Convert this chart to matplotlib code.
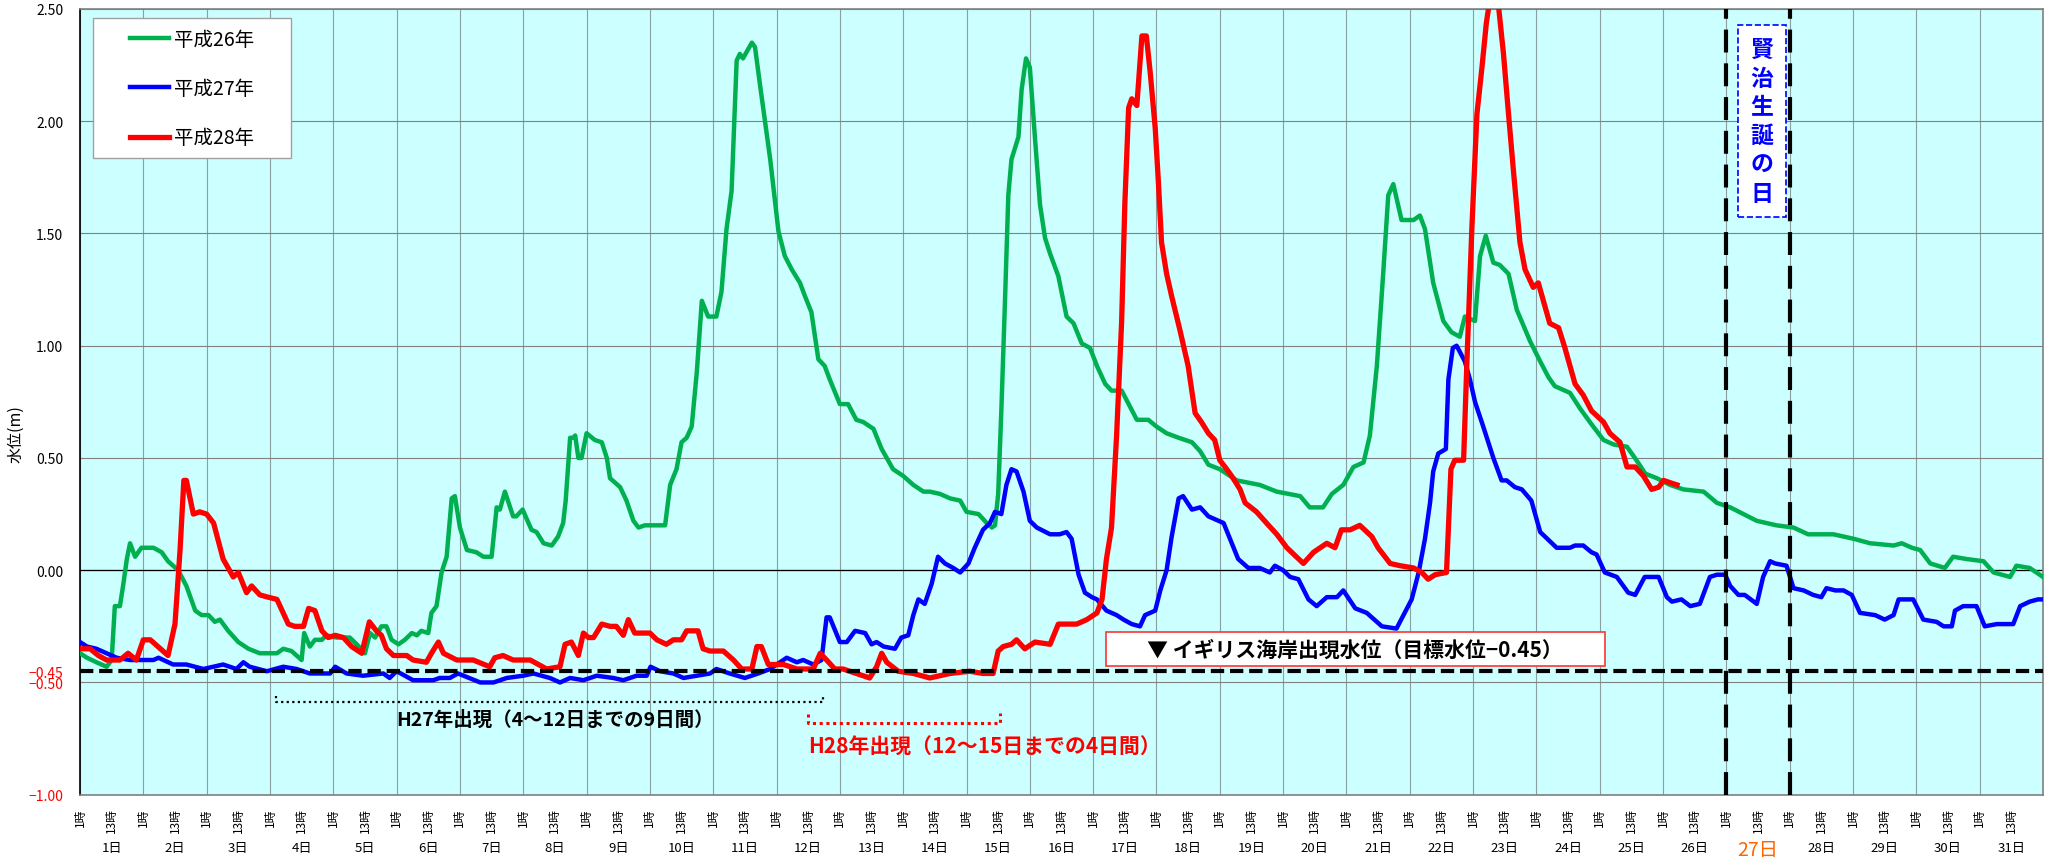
import matplotlib
matplotlib.use("Agg")
import matplotlib.pyplot as plt
from matplotlib.patches import Rectangle
from matplotlib.ticker import FixedLocator, FixedFormatter

plt.rcParams['font.family'] = ['Noto Sans CJK JP', 'DejaVu Sans']

# 横軸: 1日1時からの経過日数
h26_t = [0.00, 0.11, 0.26, 0.42, 0.50, 0.55, 0.63, 0.68, 0.74, 0.79,
         0.87, 0.97, 1.16, 1.29, 1.39, 1.55, 1.68, 1.82, 1.92, 2.03,
         2.13, 2.21, 2.34, 2.50, 2.66, 2.84, 3.11, 3.21, 3.34, 3.50,
         3.54, 3.63, 3.71, 3.82, 3.89, 4.05, 4.26, 4.37, 4.50, 4.58,
         4.66, 4.76, 4.84, 4.92, 5.03, 5.13, 5.24, 5.32, 5.39, 5.50,
         5.55, 5.63, 5.71, 5.79, 5.87, 5.92, 6.00, 6.11, 6.26, 6.37,
         6.50, 6.58, 6.63, 6.71, 6.84, 6.89, 6.99, 7.13, 7.21, 7.32,
         7.45, 7.55, 7.63, 7.67, 7.74, 7.79,
         7.82, 7.87, 7.92, 8.00, 8.13, 8.24, 8.32, 8.37, 8.53, 8.63,
         8.74, 8.82, 8.92, 9.24, 9.32, 9.42, 9.50, 9.58, 9.66, 9.74,
         9.82, 9.92, 10.05, 10.13, 10.21, 10.29, 10.37, 10.42, 10.47, 10.61,
         10.66, 10.74, 10.90, 11.03, 11.13, 11.24, 11.37, 11.45, 11.55, 11.66,
         11.76, 11.84, 12.00, 12.13, 12.26, 12.37, 12.53, 12.66, 12.84, 13.00,
         13.16, 13.32, 13.42, 13.58, 13.74, 13.90, 14.00, 14.19, 14.32, 14.40,
         14.45, 14.50, 14.55, 14.61, 14.66, 14.71, 14.82, 14.87, 14.94, 15.00,
         15.08, 15.16, 15.24, 15.32, 15.45,
         15.58, 15.69, 15.82, 15.95, 16.06, 16.19, 16.29, 16.45, 16.58, 16.69,
         16.87, 17.00, 17.16, 17.35, 17.56, 17.69, 17.82, 18.00, 18.27, 18.63,
         18.90, 19.27, 19.42, 19.63, 19.77, 19.95, 20.11, 20.27, 20.37, 20.48,
         20.58, 20.66, 20.74, 20.87, 21.06, 21.16, 21.24, 21.37, 21.53, 21.66,
         21.79, 21.87, 22.03, 22.11, 22.20, 22.32, 22.42, 22.56, 22.69, 22.90,
         23.06, 23.19, 23.29,
         23.53, 23.69, 23.87, 24.06, 24.22, 24.43, 24.58, 24.72, 24.90, 25.11,
         25.32, 25.64, 25.85, 26.06, 26.27, 26.48, 26.79, 27.06, 27.29, 27.53,
         27.69, 28.01, 28.27, 28.64, 28.77, 28.93, 29.06, 29.22, 29.45, 29.58,
         29.79, 30.06, 30.22, 30.48, 30.58, 30.79, 31.00]
h26_level = [-0.37, -0.39, -0.41, -0.43, -0.40, -0.16, -0.16, -0.07, 0.05, 0.12,
             0.06, 0.10, 0.10, 0.08, 0.04, 0.00, -0.07, -0.18, -0.20, -0.20,
             -0.23, -0.22, -0.27, -0.32, -0.35, -0.37, -0.37, -0.35, -0.36, -0.40,
             -0.28, -0.34, -0.31, -0.31, -0.29, -0.30, -0.30, -0.33, -0.37, -0.28,
             -0.30, -0.25, -0.25, -0.31, -0.33, -0.31, -0.28, -0.29, -0.27, -0.28,
             -0.19, -0.16, -0.01, 0.06, 0.32, 0.33, 0.19, 0.09, 0.08, 0.06,
             0.06, 0.28, 0.27, 0.35, 0.24, 0.24, 0.27, 0.18, 0.17, 0.12,
             0.11, 0.15, 0.21, 0.31, 0.59, 0.59,
             0.60, 0.50, 0.50, 0.61, 0.58, 0.57, 0.50, 0.41, 0.37, 0.31,
             0.22, 0.19, 0.20, 0.20, 0.38, 0.45, 0.57, 0.59, 0.64, 0.88,
             1.20, 1.13, 1.13, 1.24, 1.52, 1.69, 2.27, 2.30, 2.28, 2.35,
             2.33, 2.16, 1.83, 1.51, 1.40, 1.34, 1.28, 1.22, 1.15, 0.94,
             0.91, 0.85, 0.74, 0.74, 0.67, 0.66, 0.63, 0.54, 0.45, 0.42,
             0.38, 0.35, 0.35, 0.34, 0.32, 0.31, 0.26, 0.25, 0.21, 0.19,
             0.20, 0.34, 0.71, 1.22, 1.67, 1.83, 1.93, 2.14, 2.28, 2.24,
             1.93, 1.63, 1.48, 1.41, 1.31,
             1.13, 1.10, 1.01, 0.99, 0.91, 0.83, 0.80, 0.80, 0.73, 0.67,
             0.67, 0.64, 0.61, 0.59, 0.57, 0.53, 0.47, 0.45, 0.40, 0.38,
             0.35, 0.33, 0.28, 0.28, 0.34, 0.38, 0.46, 0.48, 0.60, 0.91,
             1.32, 1.67, 1.72, 1.56, 1.56, 1.58, 1.52, 1.28, 1.11, 1.06,
             1.04, 1.13, 1.11, 1.40, 1.49, 1.37, 1.36, 1.32, 1.16, 1.02,
             0.93, 0.86, 0.82,
             0.79, 0.72, 0.65, 0.58, 0.56, 0.55, 0.49, 0.43, 0.41, 0.38,
             0.36, 0.35, 0.30, 0.28, 0.25, 0.22, 0.20, 0.19, 0.16, 0.16,
             0.16, 0.14, 0.12, 0.11, 0.12, 0.10, 0.09, 0.03, 0.01, 0.06,
             0.05, 0.04, -0.01, -0.03, 0.02, 0.01, -0.03]

h27_t = [0.00, 0.11, 0.26, 0.42, 0.58, 0.79, 1.16, 1.24, 1.47, 1.68,
         1.95, 2.26, 2.47, 2.58, 2.68, 2.95, 3.21, 3.42, 3.63, 3.95,
         4.03, 4.21, 4.47, 4.79, 4.89, 5.00, 5.26, 5.58, 5.68, 5.84,
         5.97, 6.32, 6.53, 6.74, 7.00, 7.16, 7.42, 7.58, 7.74,
         7.95, 8.16, 8.42, 8.58, 8.79, 8.95, 9.01, 9.16, 9.37, 9.53,
         9.74, 9.95, 10.05, 10.26, 10.50, 10.71, 10.90, 11.16, 11.32, 11.42,
         11.58, 11.71, 11.79, 11.84, 12.00, 12.11, 12.24, 12.40, 12.50, 12.58,
         12.69, 12.87, 12.97, 13.08, 13.16, 13.24, 13.34, 13.45, 13.55, 13.66,
         13.79, 13.90, 14.03, 14.13, 14.26, 14.37, 14.45, 14.55, 14.63, 14.71,
         14.79, 14.90, 15.00, 15.11, 15.32, 15.47,
         15.58, 15.66, 15.77, 15.87, 15.98, 16.06, 16.21, 16.37, 16.48, 16.61,
         16.74, 16.82, 16.98, 17.06, 17.16, 17.24, 17.35, 17.42, 17.56, 17.69,
         17.82, 18.06, 18.16, 18.29, 18.45, 18.63, 18.79, 18.87, 19.00, 19.11,
         19.24, 19.40, 19.53, 19.69, 19.85, 19.95, 20.14, 20.32, 20.56, 20.79,
         20.90, 21.03, 21.14, 21.24, 21.32, 21.37, 21.45, 21.57, 21.61, 21.68,
         21.74, 21.87, 21.95, 22.03, 22.16, 22.32, 22.45, 22.53, 22.66, 22.77,
         22.92, 23.06, 23.21,
         23.32, 23.53, 23.61, 23.74, 23.87, 23.95, 24.08, 24.27, 24.45, 24.56,
         24.71, 24.93, 25.06, 25.14, 25.29, 25.43, 25.58, 25.74, 25.85, 25.98,
         26.06, 26.19, 26.29, 26.48, 26.58, 26.69, 26.77, 26.95, 27.06, 27.22,
         27.37, 27.50, 27.58, 27.72, 27.85, 27.98, 28.11, 28.35, 28.50, 28.64,
         28.72, 28.95, 29.11, 29.32, 29.43, 29.56, 29.61, 29.74, 29.95, 30.08,
         30.27, 30.53, 30.64, 30.79, 30.92, 31.00]
h27_level = [-0.32, -0.34, -0.35, -0.37, -0.39, -0.40, -0.40, -0.39, -0.42, -0.42,
             -0.44, -0.42, -0.44, -0.41, -0.43, -0.45, -0.43, -0.44, -0.46, -0.46,
             -0.43, -0.46, -0.47, -0.46, -0.48, -0.45, -0.49, -0.49, -0.48, -0.48,
             -0.46, -0.50, -0.50, -0.48, -0.47, -0.46, -0.48, -0.50, -0.48,
             -0.49, -0.47, -0.48, -0.49, -0.47, -0.47, -0.43, -0.45, -0.46, -0.48,
             -0.47, -0.46, -0.44, -0.46, -0.48, -0.46, -0.44, -0.39, -0.41, -0.40,
             -0.42, -0.40, -0.21, -0.21, -0.32, -0.32, -0.27, -0.28, -0.33, -0.32,
             -0.34, -0.35, -0.30, -0.29, -0.20, -0.13, -0.15, -0.06, 0.06, 0.03,
             0.01, -0.01, 0.03, 0.10, 0.18, 0.21, 0.26, 0.25, 0.38, 0.45,
             0.44, 0.35, 0.22, 0.19, 0.16, 0.16,
             0.17, 0.14, -0.02, -0.10, -0.12, -0.13, -0.18, -0.20, -0.22, -0.24,
             -0.25, -0.20, -0.18, -0.09, 0.00, 0.15, 0.32, 0.33, 0.27, 0.28,
             0.24, 0.21, 0.14, 0.05, 0.01, 0.01, -0.01, 0.02, 0.00, -0.03,
             -0.04, -0.13, -0.16, -0.12, -0.12, -0.09, -0.17, -0.19, -0.25, -0.26,
             -0.20, -0.13, -0.01, 0.14, 0.30, 0.44, 0.52, 0.54, 0.85, 0.99,
             1.00, 0.93, 0.85, 0.75, 0.64, 0.50, 0.40, 0.40, 0.37, 0.36,
             0.31, 0.17, 0.13,
             0.10, 0.10, 0.11, 0.11, 0.08, 0.07, -0.01, -0.03, -0.10, -0.11,
             -0.03, -0.03, -0.12, -0.14, -0.13, -0.16, -0.15, -0.03, -0.02, -0.02,
             -0.07, -0.11, -0.11, -0.15, -0.03, 0.04, 0.03, 0.02, -0.08, -0.09,
             -0.11, -0.12, -0.08, -0.09, -0.09, -0.11, -0.19, -0.20, -0.22, -0.20,
             -0.13, -0.13, -0.22, -0.23, -0.25, -0.25, -0.18, -0.16, -0.16, -0.25,
             -0.24, -0.24, -0.16, -0.14, -0.13, -0.13]

h28_t = [0.00, 0.16, 0.29, 0.42, 0.63, 0.76, 0.89, 1.00, 1.11, 1.39,
         1.50, 1.58, 1.64, 1.68, 1.79, 1.89, 2.00, 2.11, 2.26, 2.42,
         2.50, 2.63, 2.71, 2.84, 2.97, 3.11, 3.29, 3.39, 3.53, 3.61,
         3.71, 3.82, 3.92, 4.03, 4.16, 4.29, 4.45, 4.57, 4.68, 4.76,
         4.84, 4.95, 5.16, 5.26, 5.47, 5.55, 5.66, 5.74, 5.95, 6.21,
         6.47, 6.55, 6.68, 6.84, 7.11, 7.37, 7.58, 7.66, 7.76,
         7.87, 7.95, 8.03, 8.11, 8.24, 8.37, 8.47, 8.58, 8.66, 8.76,
         9.00, 9.11, 9.26, 9.37, 9.50, 9.58, 9.76, 9.84, 9.95, 10.16,
         10.32, 10.45, 10.61, 10.69, 10.76, 10.87, 11.11, 11.32, 11.58, 11.69,
         11.79, 11.92, 12.05, 12.26, 12.47, 12.58, 12.66, 12.74, 12.92, 13.16,
         13.42, 13.58, 13.74, 14.05, 14.26, 14.42, 14.50, 14.58, 14.71, 14.79,
         14.92, 15.08, 15.32, 15.45,
         15.74, 15.90, 16.06, 16.14, 16.21, 16.29, 16.37, 16.45, 16.50, 16.56,
         16.61, 16.69, 16.77, 16.84, 16.90, 16.98, 17.03, 17.08, 17.16, 17.24,
         17.37, 17.50, 17.61, 17.71, 17.82, 17.92, 18.00, 18.11, 18.21, 18.32,
         18.40, 18.58, 18.77, 18.90, 19.06, 19.21, 19.32, 19.48, 19.69, 19.82,
         19.92, 20.06, 20.21, 20.40, 20.50, 20.69, 20.85, 21.06, 21.19, 21.29,
         21.40, 21.58, 21.65, 21.71, 21.85, 21.90, 21.98, 22.06, 22.14, 22.21,
         22.34, 22.48, 22.56, 22.64, 22.74, 22.82, 22.95, 23.03, 23.11, 23.21,
         23.35, 23.45, 23.61, 23.74, 23.87, 24.06, 24.16, 24.32, 24.43, 24.56,
         24.69, 24.82, 24.93, 25.01, 25.11, 25.22]
h28_level = [-0.35, -0.35, -0.38, -0.40, -0.40, -0.37, -0.40, -0.31, -0.31, -0.38,
             -0.24, 0.09, 0.40, 0.40, 0.25, 0.26, 0.25, 0.21, 0.05, -0.03,
             -0.01, -0.10, -0.07, -0.11, -0.12, -0.13, -0.24, -0.25, -0.25, -0.17,
             -0.18, -0.27, -0.30, -0.29, -0.30, -0.34, -0.37, -0.23, -0.27, -0.29,
             -0.35, -0.38, -0.38, -0.40, -0.41, -0.37, -0.32, -0.37, -0.40, -0.40,
             -0.43, -0.39, -0.38, -0.40, -0.40, -0.44, -0.43, -0.33, -0.32,
             -0.38, -0.28, -0.30, -0.30, -0.24, -0.25, -0.25, -0.29, -0.22, -0.28,
             -0.28, -0.31, -0.33, -0.31, -0.31, -0.27, -0.27, -0.35, -0.36, -0.36,
             -0.40, -0.44, -0.44, -0.34, -0.34, -0.42, -0.42, -0.44, -0.44, -0.37,
             -0.40, -0.44, -0.44, -0.46, -0.48, -0.43, -0.37, -0.41, -0.45, -0.46,
             -0.48, -0.47, -0.46, -0.45, -0.46, -0.46, -0.36, -0.34, -0.33, -0.31,
             -0.35, -0.32, -0.33, -0.24,
             -0.24, -0.22, -0.19, -0.13, 0.05, 0.19, 0.60, 1.11, 1.63, 2.06,
             2.10, 2.07, 2.38, 2.38, 2.22, 1.97, 1.73, 1.46, 1.32, 1.22,
             1.07, 0.91, 0.70, 0.66, 0.61, 0.58, 0.49, 0.45, 0.41, 0.36,
             0.30, 0.26, 0.20, 0.16, 0.10, 0.06, 0.03, 0.08, 0.12, 0.10,
             0.18, 0.18, 0.20, 0.15, 0.10, 0.03, 0.02, 0.01, -0.01, -0.04,
             -0.02, -0.01, 0.45, 0.49, 0.49, 0.91, 1.52, 2.03, 2.24, 2.44,
             2.68, 2.30, 2.03, 1.77, 1.46, 1.34, 1.26, 1.28, 1.20, 1.10,
             1.08, 0.99, 0.83, 0.78, 0.71, 0.66, 0.61, 0.57, 0.46, 0.46,
             0.42, 0.36, 0.37, 0.40, 0.39, 0.38]

days = list(range(1, 32))
y_ticks = [-1.0, -0.5, -0.45, 0.0, 0.5, 1.0, 1.5, 2.0, 2.5]
target_level = -0.45
kenji_day = 27
h27_span = (3.1, 11.73)
h28_span = (11.5, 14.53)

fig = plt.figure(figsize=(20.63, 8.62), dpi=100)
ax = fig.add_axes([80 / 2063, 1 - 795.7 / 862, 1963 / 2063, 785.7 / 862])
ax.set_facecolor('#CCFFFF')

ax.plot(h26_t, h26_level, color='#00B050', lw=3.2, label='平成26年', solid_joinstyle='round', zorder=3)
ax.plot(h27_t, h27_level, color='#0000FF', lw=3.2, label='平成27年', solid_joinstyle='round', zorder=3)
ax.plot(h28_t, h28_level, color='#FF0000', lw=3.8, label='平成28年', solid_joinstyle='round', zorder=3)

ax.set_xlim(0, 31)
ax.set_ylim(-1.0, 2.5)

# 目標水位と賢治生誕の日
ax.axhline(0, color='black', lw=0.9, zorder=2)
ax.axhline(target_level, color='black', lw=3, dashes=(3.2, 1.4), zorder=4)
ax.axvline(kenji_day - 1, color='black', lw=3, dashes=(5.5, 2.6), zorder=4)
ax.axvline(kenji_day, color='black', lw=3, dashes=(5.5, 2.6), zorder=4)

# 軸
ax.xaxis.set_major_locator(FixedLocator([d - 1 for d in days]))
ax.xaxis.set_major_formatter(FixedFormatter(['1時'] * len(days)))
ax.xaxis.set_minor_locator(FixedLocator([d - 0.5 for d in days]))
ax.xaxis.set_minor_formatter(FixedFormatter(['13時'] * len(days)))
ax.tick_params(axis='x', which='both', length=0, pad=9, labelsize=8.5, labelrotation=90)

ax.yaxis.set_major_locator(FixedLocator(y_ticks))
ax.yaxis.set_major_formatter(FixedFormatter([f'{v:.2f}'.replace('-', '\u2212') for v in y_ticks]))
ax.tick_params(axis='y', length=0, pad=12, labelsize=10)
for v, lab in zip(y_ticks, ax.get_yticklabels()):
    if v < 0:
        lab.set_color('#FF0000')

ax.grid(axis='y', color='#808080', lw=0.8)
ax.grid(axis='x', which='major', color='#8AA0A0', lw=0.8)
for v, gl in zip(y_ticks, ax.yaxis.get_gridlines()):
    if v == target_level:
        gl.set_visible(False)

for s in ax.spines.values():
    s.set_color('#808080')
    s.set_linewidth(1.2)
ax.spines['left'].set_color('black')

ax.set_ylabel('水位(m)', fontsize=11.5)
ax.yaxis.set_label_coords(-0.0285, 0.46)

for d in days:
    if d == kenji_day:
        ax.text(d - 0.5, -0.070, f'{d}日', transform=ax.get_xaxis_transform(),
                ha='center', va='center', fontsize=14, color='#FF6600')
    else:
        ax.text(d - 0.5, -0.0666, f'{d}日', transform=ax.get_xaxis_transform(),
                ha='center', va='center', fontsize=9.5, color='black')

# 凡例
leg = ax.legend(loc='upper left', bbox_to_anchor=(0.0255, 0.975), frameon=False,
                fontsize=14, handlelength=2.0, handletextpad=0.25, labelspacing=1.46,
                borderpad=0, borderaxespad=0)
leg.set_zorder(7)
ax.add_patch(Rectangle((0.0066, 0.8104), 0.1009, 0.1782, transform=ax.transAxes,
                       facecolor='white', edgecolor='#A0A0A0', lw=1, zorder=6))

# 注記
ax.text(26.56, 2.0, '賢\n治\n生\n誕\nの\n日', ha='center', va='center', fontsize=16.5,
        fontweight='bold', color='#0000FF', linespacing=1.32, zorder=6,
        bbox=dict(boxstyle='square,pad=0.55', facecolor='white', edgecolor='#0000FF',
                  linestyle='--', lw=1.2))

ax.text(20.14, -0.351, '\u3000   ▼ イギリス海岸出現水位（目標水位\u22120.45）   \u3000',
        ha='center', va='center', fontsize=15, fontweight='bold', color='black', zorder=6,
        bbox=dict(boxstyle='square,pad=0.3', facecolor='white', edgecolor='#FF3333', lw=1.2))

ax.plot([h27_span[0], h27_span[0], h27_span[1], h27_span[1]], [-0.56, -0.587, -0.587, -0.555],
        color='black', lw=1.6, ls=(0, (1, 1.5)), zorder=5)
ax.text(7.50, -0.665, 'H27年出現（4～12日までの9日間）', ha='center', va='center',
        fontsize=14, fontweight='bold', color='black', zorder=6)

ax.plot([h28_span[0], h28_span[0], h28_span[1], h28_span[1]], [-0.64, -0.68, -0.68, -0.635],
        color='#FF0000', lw=2.2, ls=(0, (1, 1.2)), zorder=5)
ax.text(14.29, -0.785, 'H28年出現（12～15日までの4日間）', ha='center', va='center',
        fontsize=15, fontweight='bold', color='#FF0000', zorder=6)

fig.savefig('out.png', dpi=100, facecolor='white')
